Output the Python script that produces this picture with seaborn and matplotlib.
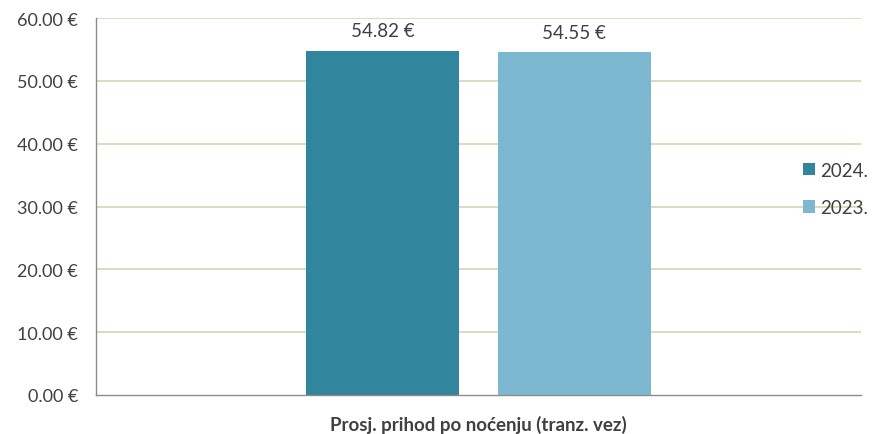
import matplotlib
matplotlib.use("Agg")
import matplotlib.pyplot as plt
import seaborn as sns
import pandas as pd

# podaci s grafa
kategorije = ["Prosj. prihod po noćenju (tranz. vez)"]
godine = ["2024.", "2023."]
vrijednosti = [54.82, 54.55]
boje = ["#31859C", "#7CB9D0"]
y_oznake = [0, 10, 20, 30, 40, 50, 60]

df = pd.DataFrame({
    "kategorija": kategorije * len(godine),
    "godina": godine,
    "prihod": vrijednosti,
})

sns.set_style("white")
plt.rcParams["font.family"] = ["Lato", "DejaVu Sans"]

fig = plt.figure(figsize=(8.72, 4.35), dpi=100)
ax = fig.add_axes([96 / 872, 1 - 396 / 435, (861 - 96) / 872, (396 - 19) / 435])

sns.barplot(data=df, x="kategorija", y="prihod", hue="godina",
            hue_order=godine, palette=boje, width=0.5, gap=0.2,
            saturation=1, linewidth=0, ax=ax, legend=True)

for c in ax.containers:
    ax.bar_label(c, labels=[f"{v:.2f} €" for v in c.datavalues],
                 padding=8, fontsize=13.5, color="#404040")

ax.set_xlim(-0.5, 0.5)
ax.set_ylim(0, 60)
ax.set_yticks(y_oznake)
ax.set_yticklabels([f"{v:.2f} €" for v in y_oznake])
ax.set_xticks([-0.5, 0.5])
ax.set_xticklabels(["", ""])

# mreza
for v in y_oznake[1:]:
    ax.axhline(v, color="#D4D0AE", lw=1.1, zorder=0)

for s in ["top", "right"]:
    ax.spines[s].set_visible(False)
for s in ["left", "bottom"]:
    ax.spines[s].set_color("#8C8C8C")
    ax.spines[s].set_linewidth(1.0)

ax.tick_params(axis="y", direction="out", length=5, color="#8C8C8C",
               labelsize=13, labelcolor="#404040", pad=8)
ax.tick_params(axis="x", direction="out", length=5, color="#8C8C8C", pad=0)
ax.set_ylabel("")
ax.set_xlabel(kategorije[0], fontsize=13.5, fontweight="bold",
              color="#404040", labelpad=9)

h, l = ax.get_legend_handles_labels()
ax.legend(h, l, loc="center left", bbox_to_anchor=(803 / 872, 1 - 190 / 435),
          bbox_transform=fig.transFigure, frameon=False, fontsize=13.5,
          handlelength=0.65, handleheight=0.65, handletextpad=0.25,
          labelspacing=1.1, labelcolor="#404040", borderaxespad=0,
          borderpad=0)

fig.savefig("out.png", dpi=100)
